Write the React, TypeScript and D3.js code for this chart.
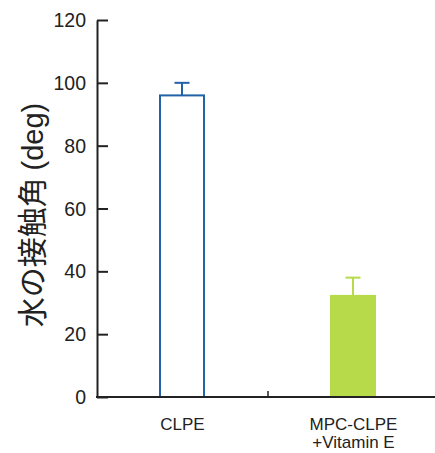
import * as d3 from "d3";
import React, { useEffect, useRef } from "react";

const categories = ["CLPE", "MPC-CLPE\n+Vitamin E"];
const values = [96, 32.5];
const errors = [4, 5.5];
const yTicks = [0, 20, 40, 60, 80, 100, 120];

const App: React.FC = () => {
  const svgRef = useRef<SVGSVGElement>(null);

  useEffect(() => {
    const svg = d3.select(svgRef.current);
    svg.selectAll("*").remove();

    const x = d3.scaleBand().domain(categories).range([97, 439]).paddingInner(0).paddingOuter(0);
    const y = d3.scaleLinear().domain([0, 120]).range([397, 20]);
    const barW = 46;
    const font = "'Liberation Sans', Arial, sans-serif";

    // bars
    const g = svg.append("g");
    categories.forEach((c, i) => {
      const cx = (x(c) || 0) + x.bandwidth() / 2 - 0.5;
      const col = i === 0 ? "#2262a8" : "#b6da4a";
      // error bar
      g.append("line")
        .attr("x1", cx).attr("x2", cx)
        .attr("y1", y(values[i])).attr("y2", y(values[i] + errors[i]))
        .attr("stroke", col).attr("stroke-width", 2);
      g.append("line")
        .attr("x1", cx - 7.5).attr("x2", cx + 7.5)
        .attr("y1", y(values[i] + errors[i])).attr("y2", y(values[i] + errors[i]))
        .attr("stroke", col).attr("stroke-width", 2);
      g.append("rect")
        .attr("x", i === 0 ? cx - barW / 2 + 1 : cx - barW / 2)
        .attr("y", y(values[i]))
        .attr("width", i === 0 ? barW - 2 : barW)
        .attr("height", y(0) - y(values[i]))
        .attr("fill", i === 0 ? "#fff" : col)
        .attr("stroke", i === 0 ? col : "none")
        .attr("stroke-width", 2);
    });

    // y axis
    const yAxis = svg.append("g").attr("transform", "translate(97,0)")
      .call(d3.axisRight(y).tickValues(yTicks).tickSize(11).tickSizeOuter(0).tickFormat(() => ""));
    yAxis.select(".domain").attr("stroke", "#222").attr("stroke-width", 2);
    yAxis.selectAll(".tick line").attr("stroke", "#222").attr("stroke-width", 2);
    svg.append("g").selectAll("text").data(yTicks).join("text")
      .attr("x", 86).attr("y", (d) => y(d) + 7)
      .attr("text-anchor", "end")
      .attr("font-family", font).attr("font-size", 19.5).attr("fill", "#222")
      .text((d) => d);

    // x axis
    svg.append("line").attr("x1", 96).attr("x2", 435).attr("y1", 397).attr("y2", 397)
      .attr("stroke", "#222").attr("stroke-width", 2);
    svg.append("line").attr("x1", x(categories[1]) || 0).attr("x2", x(categories[1]) || 0)
      .attr("y1", 397).attr("y2", 391).attr("stroke", "#222").attr("stroke-width", 1.5);

    categories.forEach((c) => {
      const cx = (x(c) || 0) + x.bandwidth() / 2;
      c.split("\n").forEach((line, j) => {
        svg.append("text")
          .attr("x", cx).attr("y", 430 + j * 18)
          .attr("text-anchor", "middle")
          .attr("font-family", font).attr("font-size", 17).attr("fill", "#222")
          .text(line);
      });
    });

    // y label
    const lab = svg.append("text")
      .attr("transform", "translate(43,215) rotate(-90)")
      .attr("text-anchor", "middle")
      .attr("font-family", "'Noto Sans CJK JP', sans-serif")
      .attr("font-size", 30).attr("fill", "#222");
    lab.append("tspan").text("水の接触角 ");
    lab.append("tspan").attr("font-family", font).attr("font-size", 29).text("(deg)");
  }, []);

  return (
    <svg ref={svgRef} width={435} height={453}
      style={{ position: "absolute", left: 0, top: 0, background: "#fff" }} />
  );
};

export default App;
